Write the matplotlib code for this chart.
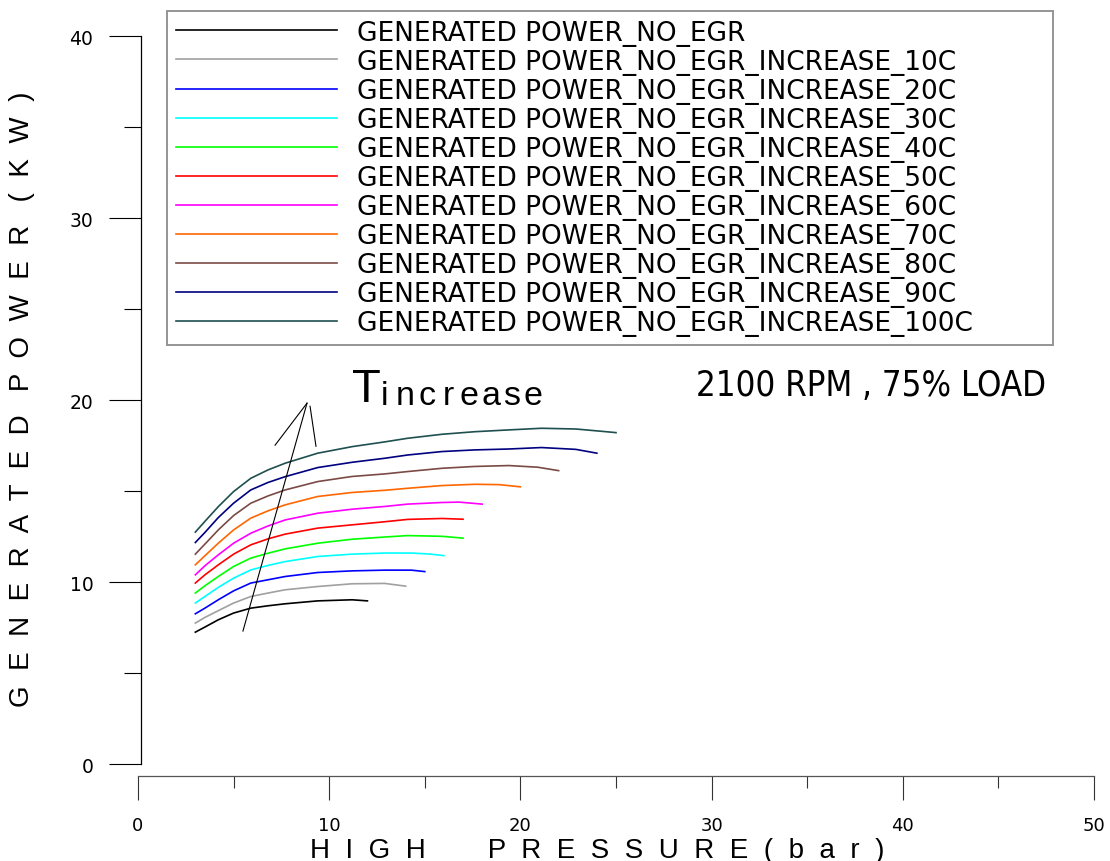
import os

import matplotlib
matplotlib.use("Agg")
import matplotlib.pyplot as plt
from matplotlib import font_manager
from matplotlib.font_manager import FontProperties
from matplotlib.ticker import MultipleLocator


def condensed_font_file():
    # pick the narrowest regular sans face that happens to be installed
    stems = [
        "liberationsansnarrow-regular",
        "notosans-extracondensed",
        "notosans-condensed",
        "dejavusanscondensed",
        "robotocondensed-regular",
    ]
    files = [f.fname for f in font_manager.fontManager.ttflist]
    for stem in stems:
        for fn in files:
            if os.path.splitext(os.path.basename(fn))[0].lower() == stem:
                return fn
    return None


# generated power (kW) against high pressure (bar), one curve per temperature step
p_base = [3.0, 3.5, 4.2, 5.0, 5.9, 6.8, 7.7, 9.4, 11.2, 12.0]
w_base = [7.25, 7.53, 7.93, 8.30, 8.57, 8.70, 8.81, 8.97, 9.03, 8.97]

p_10 = [3.0, 3.5, 4.2, 5.0, 5.9, 6.8, 7.7, 9.4, 11.2, 12.9, 14.0]
w_10 = [7.75, 8.06, 8.43, 8.85, 9.21, 9.40, 9.58, 9.76, 9.91, 9.93, 9.78]

p_20 = [3.0, 3.5, 4.2, 5.0, 5.9, 6.8, 7.7, 9.4, 11.2, 12.9, 14.3, 15.0]
w_20 = [8.26, 8.57, 9.03, 9.52, 9.95, 10.13, 10.31, 10.53, 10.62, 10.66, 10.66, 10.58]

p_30 = [3.0, 3.5, 4.2, 5.0, 5.9, 6.8, 7.7, 9.4, 11.2, 12.9, 14.3, 15.3, 16.0]
w_30 = [8.85, 9.21, 9.71, 10.22, 10.67, 10.92, 11.13, 11.41, 11.54, 11.60, 11.60, 11.54, 11.46]

p_40 = [3.0, 3.5, 4.2, 5.0, 5.9, 6.8, 7.7, 9.4, 11.2, 12.9, 14.1, 15.9, 17.0]
w_40 = [9.40, 9.80, 10.31, 10.86, 11.32, 11.59, 11.83, 12.14, 12.36, 12.48, 12.56, 12.52, 12.42]

p_50 = [3.0, 3.5, 4.2, 5.0, 5.9, 6.8, 7.7, 9.4, 11.2, 12.9, 14.1, 15.9, 17.0]
w_50 = [9.95, 10.40, 10.95, 11.54, 12.05, 12.38, 12.64, 12.97, 13.15, 13.32, 13.45, 13.50, 13.46]

p_60 = [3.0, 3.5, 4.2, 5.0, 5.9, 6.8, 7.7, 9.4, 11.2, 12.9, 14.1, 15.9, 16.8, 18.0]
w_60 = [10.40, 10.90, 11.50, 12.14, 12.69, 13.09, 13.42, 13.79, 14.01, 14.16, 14.29, 14.38, 14.40, 14.29]

p_70 = [3.0, 3.5, 4.2, 5.0, 5.9, 6.8, 7.7, 9.4, 11.2, 12.9, 14.1, 15.9, 17.6, 18.9, 20.0]
w_70 = [10.95, 11.45, 12.14, 12.87, 13.52, 13.92, 14.25, 14.71, 14.93, 15.05, 15.16, 15.31, 15.38, 15.36, 15.24]

p_80 = [3.0, 3.5, 4.2, 5.0, 5.9, 6.8, 7.7, 9.4, 11.2, 12.9, 14.1, 15.9, 17.6, 19.4, 20.9, 22.0]
w_80 = [11.54, 12.09, 12.87, 13.66, 14.34, 14.74, 15.07, 15.53, 15.81, 15.95, 16.08, 16.26, 16.36, 16.41, 16.32, 16.13]

p_90 = [3.0, 3.5, 4.2, 5.0, 5.9, 6.8, 7.7, 9.4, 11.2, 12.9, 14.1, 15.9, 17.6, 19.4, 21.1, 22.9, 24.0]
w_90 = [12.18, 12.73, 13.55, 14.34, 15.07, 15.48, 15.80, 16.30, 16.59, 16.81, 16.99, 17.18, 17.27, 17.32, 17.40, 17.30, 17.09]

p_100 = [3.0, 3.5, 4.2, 5.0, 5.9, 6.8, 7.7, 9.4, 11.2, 12.9, 14.1, 15.9, 17.6, 19.4, 21.1, 22.9, 24.6, 25.0]
w_100 = [12.75, 13.34, 14.15, 14.98, 15.71, 16.17, 16.54, 17.09, 17.45, 17.71, 17.91, 18.13, 18.27, 18.37, 18.46, 18.42, 18.26, 18.22]

labels = ["GENERATED POWER_NO_EGR"] + [
    f"GENERATED POWER_NO_EGR_INCREASE_{t}C" for t in range(10, 101, 10)
]
colors = [
    "#000000", "#a0a0a0", "#0000ff", "#00ffff", "#00ff00", "#ff0000",
    "#ff00ff", "#ff6600", "#7a4a45", "#000080", "#1f4f4f",
]
series = [
    (p_base, w_base), (p_10, w_10), (p_20, w_20), (p_30, w_30),
    (p_40, w_40), (p_50, w_50), (p_60, w_60), (p_70, w_70),
    (p_80, w_80), (p_90, w_90), (p_100, w_100),
]

fig = plt.figure(figsize=(11.1, 8.62), dpi=100)
ax = fig.add_axes([0.1243, 0.1125, 0.8613, 0.8440])

for (p, w), c, lab in zip(series, colors, labels):
    ax.plot(p, w, color=c, linewidth=1.2, label=lab)

ax.set_xlim(0, 50)
ax.set_ylim(0, 40)

# detached axes: no box, bottom axis dropped below the plot area
ax.spines["top"].set_visible(False)
ax.spines["right"].set_visible(False)
ax.spines["left"].set_position(("outward", -2.5))
ax.spines["bottom"].set_position(("outward", 8.4))
ax.spines["left"].set_linewidth(0.9)
ax.spines["bottom"].set_linewidth(0.9)
ax.spines["bottom"].set_color("#555555")

ax.xaxis.set_major_locator(MultipleLocator(10))
ax.xaxis.set_minor_locator(MultipleLocator(5))
ax.yaxis.set_major_locator(MultipleLocator(10))
ax.yaxis.set_minor_locator(MultipleLocator(5))

ax.tick_params(axis="y", which="major", direction="out", length=22.7, width=0.8,
               pad=12, labelsize=13.5)
ax.tick_params(axis="y", which="minor", direction="out", length=12.2, width=0.8)
ax.tick_params(axis="x", which="major", direction="out", length=17, width=0.8,
               pad=12, labelsize=13, color="#333333")
ax.tick_params(axis="x", which="minor", direction="out", length=8.3, width=0.8,
               color="#333333")
for t in ax.get_xticklabels() + ax.get_yticklabels():
    t.set_family("DejaVu Sans")

# axis titles with wide letter spacing
fig.text(0.0198, 0.537,
         "G  E  N  E  R  A  T  E  D   P  O  W  E  R   (  K  W  )",
         rotation=90, ha="center", va="center", fontsize=20,
         family="Liberation Sans")
fig.text(310 / 1110, 4 / 862,
         "H  I  G  H        P  R  E  S  S  U  R  E  (  b  a  r  )",
         ha="left", va="baseline", fontsize=20, family="Liberation Sans")

# temperature arrow
ax.plot([5.49, 8.84], [7.31, 19.84], color="black", linewidth=0.8)
ax.plot([7.17, 8.84], [17.53, 19.84], color="black", linewidth=0.8)
ax.plot([9.31, 9.00], [17.47, 19.67], color="black", linewidth=0.8)

ax.text(11.2, 19.95, "T", fontsize=34, family="Liberation Sans",
        ha="left", va="baseline")
for i, ch in enumerate("increase"):
    ax.annotate(ch, xy=(12.6, 19.95), xytext=(i * 15.3 + 4, -2),
                textcoords="offset points", fontsize=24.5,
                family="Liberation Sans", ha="center", va="baseline")

# operating point note, squeezed to its box width
cond_file = condensed_font_file()
if cond_file:
    note_font = FontProperties(fname=cond_file, size=38)
else:
    note_font = FontProperties(family="Liberation Sans", size=38)
note = ax.text(29.2, 20.27, "2100 RPM , 75% LOAD", fontproperties=note_font,
               ha="left", va="baseline")
fig.canvas.draw()
note_w = note.get_window_extent().width
if note_w > 350:
    note.set_fontsize(38 * 350 / note_w)

leg = ax.legend(
    loc="upper left",
    bbox_to_anchor=(0.1505, 0.5974, 0.7981, 0.3887),
    bbox_transform=fig.transFigure,
    mode="expand",
    borderaxespad=0,
    fancybox=False,
    frameon=True,
    prop={"family": "DejaVu Sans", "size": 19},
    handlelength=6.1,
    handletextpad=0.75,
    borderpad=0.33,
    labelspacing=0.115,
)
leg.get_frame().set_edgecolor("#707070")
leg.get_frame().set_linewidth(1.3)
for line in leg.get_lines():
    line.set_linewidth(1.2)

fig.savefig("out.png", dpi=100)
